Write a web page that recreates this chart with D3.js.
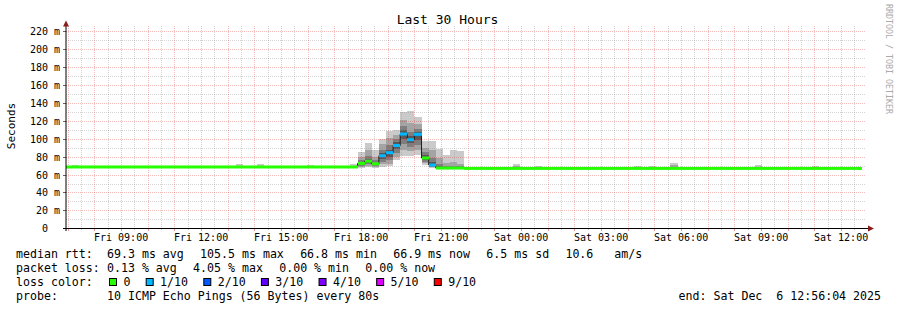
<!DOCTYPE html>
<html>
<head>
<meta charset="utf-8">
<script src="https://cdn.jsdelivr.net/npm/d3@7"></script>
<style>
  body { margin: 0; background: #fff; }
  svg text { font-family: "DejaVu Sans Mono", monospace; fill: #000; white-space: pre; }
</style>
</head>
<body>
<svg id="chart" width="897" height="310"></svg>
<script>
var parseTime = d3.timeParse('%Y-%m-%d %H:%M:%S');

var title = 'Last 30 Hours';
var yTitle = 'Seconds';
var endStamp = '2025-12-06 12:56:04';
var spanHours = 30;
var yMax = 226;

// median rtt (ms) as steps, each one holds until the next start
var medianTimes = [
  '2025-12-05 06:56:04', '2025-12-05 17:52:00', '2025-12-05 18:08:00', '2025-12-05 18:24:00',
  '2025-12-05 18:40:00', '2025-12-05 18:56:00', '2025-12-05 19:12:00', '2025-12-05 19:28:00',
  '2025-12-05 19:44:00', '2025-12-05 20:00:00', '2025-12-05 20:16:00', '2025-12-05 20:32:00',
  '2025-12-05 20:48:00', '2025-12-05 21:52:00'
];
var medianRtt = [68.5, 72.5, 75, 72, 81, 84.5, 92.5, 105.3, 99, 105, 78.5, 70.7, 67.3, 66.9];
var medianLossPct = [0, 0, 0, 0, 2.5, 3.1, 1.9, 4.05, 2.2, 3.3, 0, 1.3, 0, 0];
var medianEnd = '2025-12-06 12:46:00';

// smoke: 16 minute bins, 10 sorted ping rtts (ms) each
var binMinutes = 16;
var smokeTimes = [
  '2025-12-05 07:10:00', '2025-12-05 13:18:00', '2025-12-05 14:06:00', '2025-12-05 15:58:00',
  '2025-12-05 17:36:00', '2025-12-05 17:52:00', '2025-12-05 18:08:00', '2025-12-05 18:24:00',
  '2025-12-05 18:40:00', '2025-12-05 18:56:00', '2025-12-05 19:12:00', '2025-12-05 19:28:00',
  '2025-12-05 19:44:00', '2025-12-05 20:00:00', '2025-12-05 20:16:00', '2025-12-05 20:32:00',
  '2025-12-05 20:48:00', '2025-12-05 21:04:00', '2025-12-05 21:20:00', '2025-12-05 21:36:00',
  '2025-12-05 23:42:00', '2025-12-06 00:32:00', '2025-12-06 04:14:00', '2025-12-06 04:48:00',
  '2025-12-06 05:36:00', '2025-12-06 08:46:00', '2025-12-06 10:54:00'
];
var smokePings = [
  [68.2, 68.3, 68.4, 68.4, 68.5, 68.5, 68.6, 68.7, 69, 70.5],
  [68.2, 68.3, 68.4, 68.5, 68.5, 68.6, 68.7, 69, 70, 72],
  [68.2, 68.3, 68.4, 68.5, 68.5, 68.6, 68.7, 69, 70, 72],
  [68.2, 68.3, 68.4, 68.5, 68.5, 68.6, 68.7, 68.9, 69.5, 70.7],
  [67.8, 68, 68.2, 68.4, 68.5, 68.6, 68.8, 69, 69.5, 71.5],
  [67.5, 68.5, 70, 71, 72, 73, 74, 76, 80, 85],
  [68, 69.5, 71.5, 73, 74.5, 75.5, 77.5, 81, 88, 95],
  [67.5, 68.5, 69.5, 70.5, 71.5, 72.5, 73.5, 76, 80, 87],
  [69, 71.5, 74.5, 77.5, 80, 82, 84.5, 88, 94, 100],
  [69.5, 72, 76, 80, 83.5, 85.5, 88, 93, 101, 109],
  [76, 80, 84.5, 88.5, 91.5, 93.5, 96, 99.5, 104, 110],
  [81, 88, 94, 100, 104, 106.5, 110, 114, 121, 130],
  [81, 86, 91, 95.5, 98.5, 100.5, 103, 108, 118, 131],
  [82, 87, 93, 99, 104, 105.5, 107.5, 111, 116, 124],
  [70.5, 72.5, 74.5, 76.5, 78, 79.5, 81.5, 85, 90, 98],
  [67.5, 68, 69, 70, 70.5, 71, 74, 79, 88, 98],
  [66.5, 66.8, 67, 67.3, 67.5, 68, 69.5, 72, 78, 89],
  [66.5, 66.8, 67, 67.2, 67.5, 67.8, 68.5, 70, 73, 82],
  [66.5, 66.8, 67, 67.2, 67.5, 67.8, 68.5, 70, 74, 88],
  [66.5, 66.8, 67, 67.2, 67.5, 67.8, 68.3, 69.5, 72, 86],
  [66.6, 66.7, 66.8, 66.9, 66.9, 67, 67.2, 67.8, 69.5, 71.8],
  [66.6, 66.7, 66.8, 66.9, 66.9, 67, 67.1, 67.3, 68.2, 69.9],
  [66.6, 66.7, 66.8, 66.9, 66.9, 67, 67.1, 67.3, 68.2, 69.9],
  [66.6, 66.7, 66.8, 66.9, 66.9, 67, 67.1, 67.3, 68.2, 69.9],
  [66.6, 66.7, 66.8, 66.9, 66.9, 67, 67.3, 68.5, 71, 72.9],
  [66.6, 66.7, 66.8, 66.9, 66.9, 67, 67.1, 67.4, 68.8, 70.7],
  [66.6, 66.7, 66.8, 66.9, 66.9, 67, 67.1, 67.3, 68, 69.6]
];

var lossLevels = [0, 1, 2, 3, 4, 5, 9];
var lossLabels = ['0', '1/10', '2/10', '3/10', '4/10', '5/10', '9/10'];
var lossColors = ['#26ff00', '#00b8ff', '#0059ff', '#5e00ff', '#7e00ff', '#dd00ff', '#ff0000'];
var smokeShades = ['#cacaca', '#a4a4a4', '#7e7e7e', '#585858', '#323232'];

var rttLabel = 'median rtt:';
var rttItems = ['69.3 ms avg', '105.5 ms max', '66.8 ms min', '66.9 ms now', '6.5 ms sd', '10.6   am/s'];
var lossLabel = 'packet loss:';
var lossItems = ['0.13 % avg', '4.05 % max', '0.00 % min', '0.00 % now'];
var colorLabel = 'loss color:';
var probeLabel = 'probe:';
var probeText = '10 ICMP Echo Pings (56 Bytes) every 80s';
var endText = 'end: Sat Dec  6 12:56:04 2025';
var watermark = 'RRDTOOL / TOBI OETIKER';

// ---- layout
var W = 897, H = 310;
var plotL = 66, plotR = 866, plotT = 26, plotB = 228.3;
var charW = 6.98;
var gridColor = 'rgba(143,143,143,0.38)';
var mgridColor = 'rgba(222,48,48,0.33)';

var svg = d3.select('#chart');
svg.append('rect').attr('width', W).attr('height', H).attr('fill', '#fff');

var endTime = parseTime(endStamp);
var startTime = d3.timeHour.offset(endTime, -spanHours);

var x = d3.scaleTime().domain([startTime, endTime]).range([plotL, plotR]);
var y = d3.scaleLinear().domain([0, yMax]).range([plotB, plotT]);

function crisp(v) { return Math.round(v) + 0.5; }

// ---- smoke
var smoke = svg.append('g');
smokeTimes.forEach(function(t, i) {
  var t0 = parseTime(t);
  var t1 = d3.timeMinute.offset(t0, binMinutes);
  var p = smokePings[i];
  var n = p.length;
  smokeShades.forEach(function(c, k) {
    smoke.append('rect')
      .attr('x', Math.round(x(t0)))
      .attr('width', Math.round(x(t1)) - Math.round(x(t0)))
      .attr('y', Math.round(y(p[n - 1 - k])))
      .attr('height', Math.max(0, Math.round(y(p[k])) - Math.round(y(p[n - 1 - k]))))
      .attr('fill', c);
  });
});

// ---- grid
var grid = svg.append('g').attr('stroke-dasharray', '1,1').attr('stroke-width', 1);
var minorY = d3.range(10, yMax, 20);
var majorY = d3.range(20, yMax, 20);
var minorX = d3.timeMinute.every(30).range(startTime, endTime).filter(function(d) { return d.getMinutes() === 30; });
var majorX = d3.timeHour.range(startTime, endTime);

function hLines(data, color) {
  grid.append('g').selectAll('line').data(data).enter().append('line')
    .attr('x1', plotL).attr('x2', plotR)
    .attr('y1', function(d) { return crisp(y(d)); })
    .attr('y2', function(d) { return crisp(y(d)); })
    .attr('stroke', color);
}
function vLines(data, color) {
  grid.append('g').selectAll('line').data(data).enter().append('line')
    .attr('y1', plotT).attr('y2', plotB)
    .attr('x1', function(d) { return crisp(x(d)); })
    .attr('x2', function(d) { return crisp(x(d)); })
    .attr('stroke', color);
}
hLines(minorY, gridColor);
vLines(minorX, gridColor);
hLines(majorY, mgridColor);
vLines(majorX, mgridColor);

// ---- median
var steps = medianTimes.map(function(t, i) {
  return { t0: parseTime(t), t1: parseTime(i + 1 < medianTimes.length ? medianTimes[i + 1] : medianEnd),
           v: medianRtt[i], loss: medianLossPct[i] };
});
var stepLine = d3.line()
  .x(function(d) { return x(d.t); })
  .y(function(d) { return y(d.v); })
  .curve(d3.curveStepAfter);
var linePts = steps.map(function(s) { return { t: s.t0, v: s.v }; });
linePts.push({ t: parseTime(medianEnd), v: medianRtt[medianRtt.length - 1] });
svg.append('path').datum(linePts)
  .attr('d', stepLine)
  .attr('fill', 'none')
  .attr('stroke', '#202020')
  .attr('stroke-width', 1);

function lossColor(pct) {
  var count = pct / 100 * 10;
  return lossColors[Math.min(lossColors.length - 1, d3.bisectLeft(lossLevels, count))];
}
svg.append('g').selectAll('rect').data(steps).enter().append('rect')
  .attr('x', function(d) { return Math.round(x(d.t0)); })
  .attr('width', function(d) { return Math.round(x(d.t1)) - Math.round(x(d.t0)); })
  .attr('y', function(d) { return y(d.v) - 1.5; })
  .attr('height', 3)
  .attr('fill', function(d) { return lossColor(d.loss); });

// ---- axes
var axis = svg.append('g');
axis.selectAll('.xt').data(majorX).enter().append('line')
  .attr('x1', function(d) { return crisp(x(d)); })
  .attr('x2', function(d) { return crisp(x(d)); })
  .attr('y1', 229).attr('y2', 231)
  .attr('stroke', 'rgba(222,48,48,0.5)');
axis.selectAll('.xm').data(minorX).enter().append('line')
  .attr('x1', function(d) { return crisp(x(d)); })
  .attr('x2', function(d) { return crisp(x(d)); })
  .attr('y1', 229).attr('y2', 230)
  .attr('stroke', 'rgba(143,143,143,0.5)');
axis.selectAll('.yt').data([0].concat(majorY)).enter().append('line')
  .attr('x1', 63).attr('x2', plotL)
  .attr('y1', function(d) { return crisp(y(d)); })
  .attr('y2', function(d) { return crisp(y(d)); })
  .attr('stroke', '#666');
axis.append('line').attr('x1', 63).attr('x2', 868).attr('y1', 228.5).attr('y2', 228.5)
  .attr('stroke', '#000');
axis.append('line').attr('x1', plotL).attr('x2', plotL).attr('y1', 25).attr('y2', 231)
  .attr('stroke', '#000');
axis.append('path').attr('d', 'M868,225.5L874,228.5L868,231.5Z').attr('fill', '#8b1c1c');
axis.append('path').attr('d', 'M63,26.5L66,20.5L69,26.5Z').attr('fill', '#8b1c1c');

var xLabels = d3.timeHour.every(3).range(startTime, endTime);
var fmt = d3.timeFormat('%a %H:%M');
axis.selectAll('.xl').data(xLabels).enter().append('text')
  .attr('x', function(d) { return x(d); })
  .attr('y', 241)
  .attr('text-anchor', 'middle')
  .attr('font-size', 10)
  .text(function(d) { return fmt(d); });

axis.selectAll('.yl').data([0].concat(majorY)).enter().append('text')
  .attr('x', 60)
  .attr('y', function(d) { return crisp(y(d)) + 3.5; })
  .attr('text-anchor', 'end')
  .attr('font-size', 10)
  .text(function(d) { return d === 0 ? '0  ' : d + ' m'; });

svg.append('text')
  .attr('transform', 'translate(15,126) rotate(-90)')
  .attr('text-anchor', 'middle')
  .attr('font-size', 11)
  .text(yTitle);

svg.append('text')
  .attr('x', 447.5).attr('y', 24)
  .attr('text-anchor', 'middle')
  .attr('font-size', 13)
  .text(title);

svg.append('text')
  .attr('transform', 'translate(886,4) rotate(90)')
  .attr('font-size', 8.3)
  .style('fill', '#aaa')
  .text(watermark);

// ---- legend
var legend = svg.append('g').attr('font-size', 11.6);
var gap = 16.3;
function row(label, items, baseline) {
  legend.append('text').attr('x', 16).attr('y', baseline).text(label);
  var cx = 107;
  items.forEach(function(s) {
    legend.append('text').attr('x', cx).attr('y', baseline).text(s);
    cx += s.length * charW + gap;
  });
}
row(rttLabel, rttItems, 258);
row(lossLabel, lossItems, 272);

legend.append('text').attr('x', 16).attr('y', 286).text(colorLabel);
var bx = 109;
lossLabels.forEach(function(l, i) {
  legend.append('rect')
    .attr('x', bx + 0.5).attr('y', 278.5).attr('width', 7).attr('height', 7)
    .attr('fill', lossColors[i]).attr('stroke', '#000');
  legend.append('text').attr('x', bx + 14.4).attr('y', 286).text(l);
  bx += 14.4 + l.length * charW + 15.3;
});

row(probeLabel, [probeText], 300);
legend.append('text').attr('x', 881).attr('y', 300).attr('text-anchor', 'end').text(endText);
</script>
</body>
</html>
